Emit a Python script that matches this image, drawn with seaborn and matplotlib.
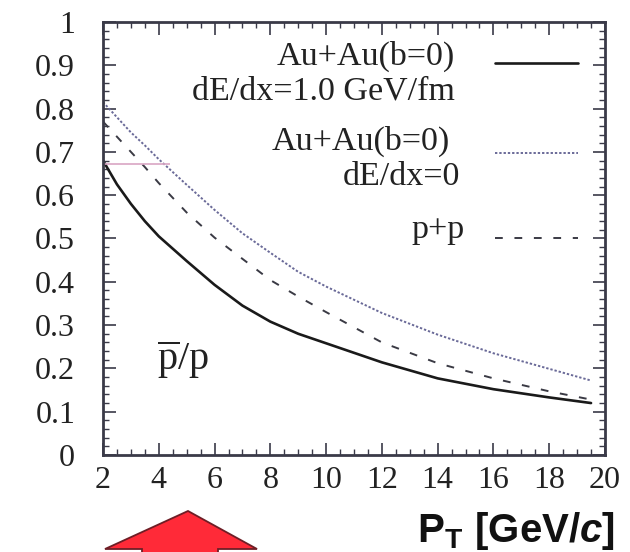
import numpy as np
import pandas as pd
import seaborn as sns
import matplotlib
matplotlib.use("Agg")
import matplotlib.pyplot as plt
from matplotlib.patches import Polygon
from matplotlib.ticker import AutoMinorLocator

# pbar/p ratio versus transverse momentum
pt = [2, 2.5, 3, 3.5, 4, 5, 6, 7, 8, 9, 10, 12, 14, 16, 18, 19.5]
ratio_quenched = [0.68, 0.625, 0.58, 0.54, 0.505, 0.448, 0.393, 0.345, 0.308,
                  0.28, 0.258, 0.214, 0.177, 0.152, 0.133, 0.12]
ratio_unquenched = [0.815, 0.78, 0.745, 0.715, 0.683, 0.624, 0.566, 0.512, 0.467,
                    0.423, 0.389, 0.328, 0.278, 0.235, 0.199, 0.172]
ratio_pp = [0.77, 0.735, 0.70, 0.665, 0.628, 0.56, 0.502, 0.453, 0.404,
            0.366, 0.33, 0.26, 0.212, 0.177, 0.147, 0.128]

xticks = [2, 4, 6, 8, 10, 12, 14, 16, 18, 20]
yticks = [0, 0.1, 0.2, 0.3, 0.4, 0.5, 0.6, 0.7, 0.8, 0.9, 1.0]
ytick_labels = ["0", "0.1", "0.2", "0.3", "0.4", "0.5", "0.6", "0.7", "0.8", "0.9", "1"]

legend_labels = ["Au+Au(b=0)\ndE/dx=1.0 GeV/fm", "Au+Au(b=0)\ndE/dx=0", "p+p"]

sns.set_style("ticks")
plt.rcParams["font.family"] = ["Liberation Serif", "DejaVu Serif"]
plt.rcParams["mathtext.fontset"] = "custom"
plt.rcParams["mathtext.rm"] = "Liberation Serif"
plt.rcParams["mathtext.sf"] = "Liberation Sans:bold"
plt.rcParams["mathtext.it"] = "Liberation Sans:bold:italic"

df = pd.DataFrame({
    "pt": pt * 3,
    "ratio": ratio_quenched + ratio_unquenched + ratio_pp,
    "model": ["quenched"] * len(pt) + ["unquenched"] * len(pt) + ["pp"] * len(pt),
})

fig = plt.figure(figsize=(6.3, 5.52), dpi=100)
ax = fig.add_axes([0.1635, 0.1757, 0.7968, 0.7845])

styles = {
    "quenched": dict(color="#1a1a1a", lw=1.9, ls="-"),
    "unquenched": dict(color="#6a6a98", lw=1.4, ls=(0, (1.2, 1.0))),
    "pp": dict(color="#3a3a44", lw=1.4, ls=(0, (4, 6))),
}
for name, st in styles.items():
    sns.lineplot(data=df[df["model"] == name], x="pt", y="ratio", ax=ax,
                 color=st["color"], lw=st["lw"], linestyle=st["ls"],
                 legend=False, estimator=None)

# faint horizontal reference stroke near the left edge
ax.hlines(0.672, 2.0, 4.4, color="#d9a6c4", lw=1.2)

ax.set_xlim(2, 20)
ax.set_ylim(0, 1)
ax.set_xticks(xticks)
ax.set_xticklabels([str(v) for v in xticks])
ax.set_yticks(yticks)
ax.set_yticklabels(ytick_labels)
ax.xaxis.set_minor_locator(AutoMinorLocator(4))
ax.yaxis.set_minor_locator(AutoMinorLocator(5))
ax.tick_params(which="both", direction="in", top=True, right=True,
               colors="#3a3a48", labelcolor="#222222")
ax.tick_params(which="major", length=9, width=1.2, labelsize=23)
ax.tick_params(which="minor", length=4.5, width=1.0)
ax.tick_params(axis="x", which="major", pad=8)
ax.tick_params(axis="y", which="major", pad=20)
for sp in ax.spines.values():
    sp.set_linewidth(2.0)
    sp.set_color("#3a3a48")
ax.set_xlabel("")
ax.set_ylabel("")

# legend built from text and short sample strokes
tkw = dict(transform=ax.transAxes, fontsize=24.5, color="#222222", va="baseline", ha="right")
lab1 = legend_labels[0].split("\n")
lab2 = legend_labels[1].split("\n")
ax.text(0.701, 0.901, lab1[0], **tkw)
ax.text(0.701, 0.822, lab1[1], **tkw)
ax.text(0.691, 0.704, lab2[0], **tkw)
ax.text(0.711, 0.624, lab2[1], **tkw)
ax.text(0.721, 0.501, legend_labels[2], **tkw)
for yk, name in [(0.905, "quenched"), (0.697, "unquenched"), (0.501, "pp")]:
    st = styles[name]
    ax.plot([0.781, 0.946], [yk, yk], transform=ax.transAxes,
            color=st["color"], lw=st["lw"], linestyle=st["ls"])

ax.text(3.94, 0.196, r"$\overline{\mathrm{p}}/\mathrm{p}$", fontsize=29,
        color="#222222", va="baseline", ha="left")

fig.text(615 / 630, 1 - 542 / 552,
         r"$\mathsf{P}_{\mathsf{T}}\ \mathsf{[GeV/}\mathit{c}\mathsf{]}$",
         fontsize=29, ha="right", va="baseline", color="#111111")

# red upward arrow below the axis
W, H = 630, 552
pts = [(188, 511), (105, 549), (142, 549), (142, 560), (218, 560), (218, 549), (257, 549)]
arrow = Polygon([(x / W, 1 - y / H) for x, y in pts], closed=True,
                transform=fig.transFigure, facecolor="#ff2a38",
                edgecolor="#6e1e26", lw=1.3, clip_on=False)
fig.add_artist(arrow)

fig.savefig("out.png", dpi=100)
